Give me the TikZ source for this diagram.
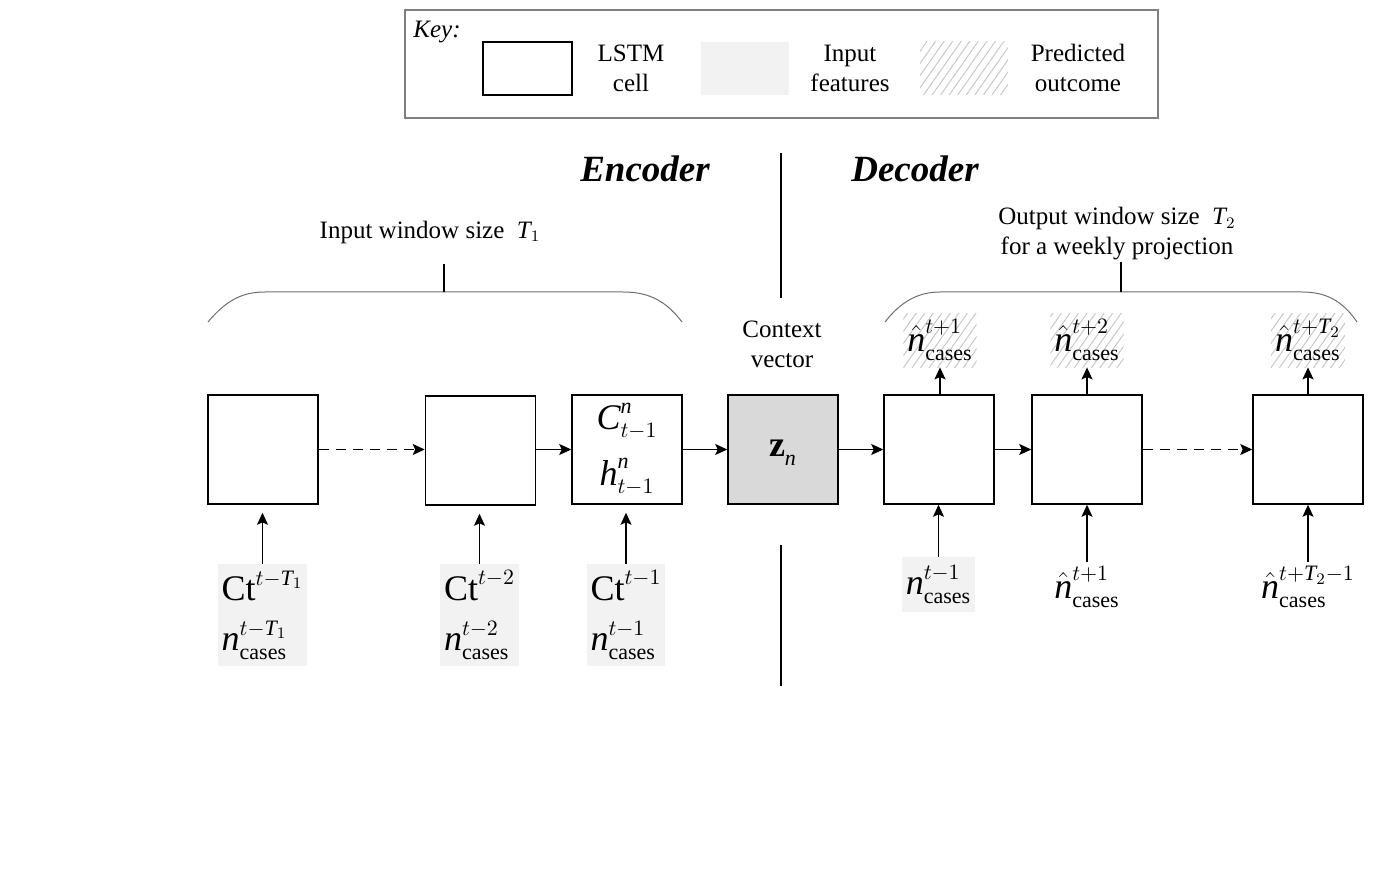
\documentclass[tikz,border=0pt]{standalone}
\usepackage{amsmath}
\usepackage{fontspec}
\setmainfont{Liberation Serif}
\usetikzlibrary{arrows.meta,patterns.meta}
\DeclareMathSizes{18}{18}{11}{8}
\DeclareMathSizes{12.5}{12.5}{8}{6}

\newcommand{\vi}[1]{\mathit{#1}}
% tall invisible base so that the indices sit apart, as in typeset equations
\newcommand{\tallbase}[1]{{#1\vphantom{\vi{T}}\vphantom{\vi{p}}}}
\newcommand{\ncases}[1]{\tallbase{\vi{n}}^{#1}_{\mathrm{cases}}}
\newcommand{\nhat}[1]{\tallbase{\hat{\vi{n}}}^{#1}_{\mathrm{cases}}}
\newcommand{\ctval}[1]{\mathrm{Ct}^{#1}}

\definecolor{featgray}{HTML}{F2F2F2}
\definecolor{ctxgray}{HTML}{D9D9D9}
\definecolor{hatchgray}{HTML}{C8C8C8}
\definecolor{bracegray}{HTML}{6E6E6E}

\tikzset{
  lbl/.style={font=\fontsize{12.5}{15}\selectfont, inner sep=0pt, align=center},
  title/.style={font=\fontsize{18.5}{22}\selectfont\bfseries\itshape, inner sep=0pt},
  cell/.style={draw, line width=0.75pt, minimum width=55pt, minimum height=54.5pt,
    inner sep=0pt, align=center, font=\fontsize{18}{28}\selectfont},
  ctx/.style={cell, fill=ctxgray},
  feat/.style={fill=featgray, inner sep=2pt, align=left, font=\fontsize{18}{25}\selectfont},
  pred/.style={pattern={Lines[angle=55,distance=3.5pt,line width=0.5pt]},
    pattern color=hatchgray, inner sep=2pt, font=\fontsize{18}{25}\selectfont},
  plain/.style={inner sep=2pt, font=\fontsize{18}{25}\selectfont},
  arr/.style={line width=0.75pt, -{Stealth[length=6pt,width=5.5pt,inset=1.2pt]}},
  darr/.style={arr, dash pattern=on 5pt off 3.5pt},
  brace/.style={draw=bracegray, line width=0.5pt},
  divider/.style={line width=1.1pt},
}

\begin{document}
\begin{tikzpicture}[x=0.5pt, y=-0.5pt]
\useasboundingbox (0,0) rectangle (1381,877);

% key
\node[draw=gray, line width=0.6pt, minimum width=376.5pt, minimum height=54pt, inner sep=0pt]
  (keybox) at (781.5,64) {};
\node[lbl, font=\fontsize{12.5}{15}\selectfont\itshape, anchor=west] (keylbl) at (413,32) {Key:};
\node[draw, line width=0.75pt, minimum width=44.5pt, minimum height=26.5pt, inner sep=0pt]
  (keycell) at (527.5,68.5) {};
\node[lbl] (keycelltxt) at (631,68) {LSTM\\cell};
\node[fill=featgray, minimum width=44pt, minimum height=26.5pt, inner sep=0pt]
  (keyfeat) at (745,68.5) {};
\node[lbl] (keyfeattxt) at (850,68) {Input\\features};
\node[pattern={Lines[angle=55,distance=3.5pt,line width=0.5pt]}, pattern color=hatchgray,
  minimum width=44pt, minimum height=26.5pt, inner sep=0pt] (keypred) at (964,68.5) {};
\node[lbl] (keypredtxt) at (1078,68) {Predicted\\outcome};

% titles and divider
\node[title] (enc) at (645,169) {Encoder};
\node[title] (dec) at (915,169) {Decoder};
\coordinate (divA) at (781,153);
\coordinate (divB) at (781,298);
\coordinate (divC) at (781,545);
\coordinate (divD) at (781,686);
\draw[divider] (divA) -- (divB);
\draw[divider] (divC) -- (divD);

% window annotations
\node[lbl] (inwin) at (430,232) {Input window size \ $\vi{T}_1$};
\node[lbl, font=\fontsize{12.5}{15}\selectfont] (outwin) at (1117,234)
  {Output window size \ $\vi{T}_2$\\[0pt]for a weekly projection};
\coordinate (inTick) at (444,264);
\coordinate (outTick) at (1121,262);
\draw[brace] (208,322) .. controls (228,298) and (245,292) .. (265,292) -- (623,292)
  .. controls (645,292) and (664,298) .. (682,322);
\draw[line width=0.6pt] (inTick) -- (444,292);
\draw[brace] (885,322) .. controls (902,300) and (920,292) .. (940,292) -- (1302,292)
  .. controls (1325,292) and (1342,300) .. (1357,322);
\draw[line width=0.6pt] (outTick) -- (1121,292);

% encoder cells
\node[cell] (c1) at (263,449.5) {};
\node[cell] (c2) at (480.5,450.5) {};
\node[cell] (c3) at (627,449.5)
  {$\tallbase{\vi{C}}^{\vi{n}}_{t-1}$\\$\tallbase{\vi{h}}^{\vi{n}}_{t-1}$};
\node[ctx] (z) at (783,449.5) {$\tallbase{\mathbf{z}}_{\vi{n}}$};
\node[lbl] (ctxlbl) at (782,344) {Context\\[0pt]vector};

% decoder cells
\node[cell] (d1) at (939,449.5) {};
\node[cell] (d2) at (1087,449.5) {};
\node[cell] (d3) at (1308,449.5) {};

% encoder inputs
\node[feat, minimum width=41.5pt, minimum height=51pt] (x1) at (262.5,615)
  {$\ctval{t-\vi{T}_1}$\\$\ncases{t-\vi{T}_1}$};
\node[feat, minimum width=38.5pt, minimum height=51pt] (x2) at (479.5,615)
  {$\ctval{t-2}$\\$\ncases{t-2}$};
\node[feat, minimum width=36pt, minimum height=51pt] (x3) at (626,615)
  {$\ctval{t-1}$\\$\ncases{t-1}$};

% decoder inputs
\node[feat, minimum width=35.5pt, minimum height=27.5pt] (y1) at (938.5,584.5) {$\ncases{t-1}$};
\node[plain] (y2) at (1087,587) {$\nhat{t+1}$};
\node[plain] (y3) at (1308,587) {$\nhat{t+\vi{T}_2-1}$};

% decoder outputs
\node[pred, minimum width=35pt, minimum height=27pt] (o1) at (940,340) {$\nhat{t+1}$};
\node[pred, minimum width=35pt, minimum height=27pt] (o2) at (1087,340) {$\nhat{t+2}$};
\node[pred, minimum width=35pt, minimum height=27pt] (o3) at (1308,340) {$\nhat{t+\vi{T}_2}$};

% horizontal connections
\draw[darr] (c1.east) -- (c2.west |- c1.east);
\draw[arr] (c2.east |- c3.west) -- (c3.west);
\draw[arr] (c3.east) -- (z.west);
\draw[arr] (z.east) -- (d1.west);
\draw[arr] (d1.east) -- (d2.west);
\draw[darr] (d2.east) -- (d3.west);

% encoder input arrows (stop short of the cells)
\draw[arr] (x1.north) -- ([yshift=-4pt]x1.north |- c1.south);
\draw[arr] (x2.north) -- ([yshift=-4pt]x2.north |- c2.south);
\draw[arr] (x3.north) -- ([yshift=-4pt]x3.north |- c3.south);

% decoder input arrows
\draw[arr] (y1.north) -- (y1.north |- d1.south);
\draw[arr] (y2.north -| d2.south) -- (d2.south);
\draw[arr] (y3.north -| d3.south) -- (d3.south);

% decoder output arrows
\draw[arr] (d1.north -| o1.south) -- (o1.south);
\draw[arr] (d2.north) -- (d2.north |- o2.south);
\draw[arr] (d3.north) -- (d3.north |- o3.south);
\end{tikzpicture}
\end{document}
